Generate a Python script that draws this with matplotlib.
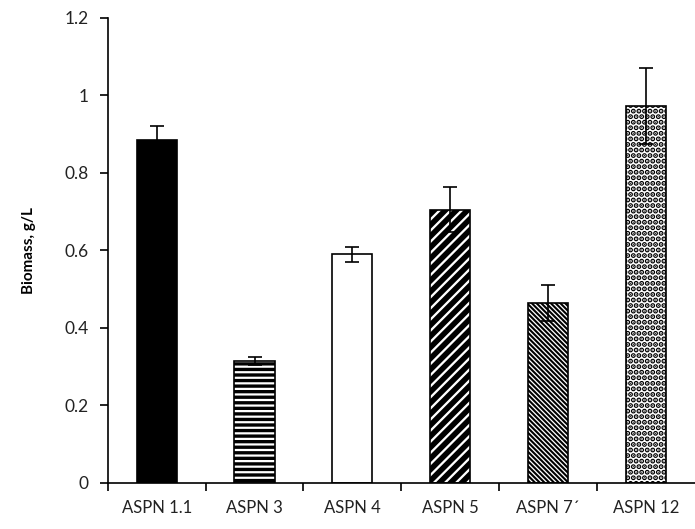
import matplotlib
matplotlib.use('Agg')
import matplotlib.pyplot as plt
import numpy as np

strains = ['ASPN 1.1', 'ASPN 3', 'ASPN 4', 'ASPN 5', 'ASPN 7´', 'ASPN 12']
biomass = [0.885, 0.315, 0.59, 0.705, 0.465, 0.973]
errors = [0.035, 0.01, 0.02, 0.058, 0.046, 0.098]

plt.rcParams['font.family'] = ['Lato', 'DejaVu Sans']

fills = ['black', 'white', 'white', 'white', 'white', 'white']
hatches = [None, '---', None, '///', '\\' * 7, '...']
hatch_widths = [1.0, 2.4, 1.0, 4.0, 1.5, 2.6]

fig = plt.figure(figsize=(6.95, 5.29), dpi=100)
ax = fig.add_axes([0.155, 0.087, 0.845, 0.879])

x = np.arange(len(strains))
bars = ax.bar(x, biomass, width=0.41, color=fills, edgecolor='black',
              linewidth=1.2, zorder=2)
for bar, h, hw in zip(bars, hatches, hatch_widths):
	if h:
		bar.set_hatch(h)
		if hasattr(bar, 'set_hatch_linewidth'):
			bar.set_hatch_linewidth(hw)

ax.errorbar(x, biomass, yerr=errors, fmt='none', ecolor='black',
            elinewidth=1.2, capsize=5, capthick=1.2, zorder=3)

ax.set_xlim(-0.5, 5.5)
ax.set_ylim(0, 1.2)
ax.set_yticks([0, 0.2, 0.4, 0.6, 0.8, 1.0, 1.2])
ax.set_yticklabels(['0', '0.2', '0.4', '0.6', '0.8', '1', '1.2'])
ax.set_xticks(x)
ax.set_xticklabels(strains)
ax.set_xticks(np.arange(-0.5, 5.5, 1.0), minor=True)
ax.tick_params(axis='x', which='major', length=0, pad=12, labelsize=12, colors='#222222')
ax.tick_params(axis='x', which='minor', length=6, width=1.2, direction='out')
ax.tick_params(axis='y', length=6, width=1.2, direction='out', labelsize=12.5,
               labelcolor='#222222', pad=8)

for side in ['top', 'right']:
	ax.spines[side].set_visible(False)
for side in ['left', 'bottom']:
	ax.spines[side].set_linewidth(1.2)

ax.set_ylabel('Biomass, g/L', fontsize=11, fontweight='bold', labelpad=20)

fig.savefig('out.png', dpi=100)
